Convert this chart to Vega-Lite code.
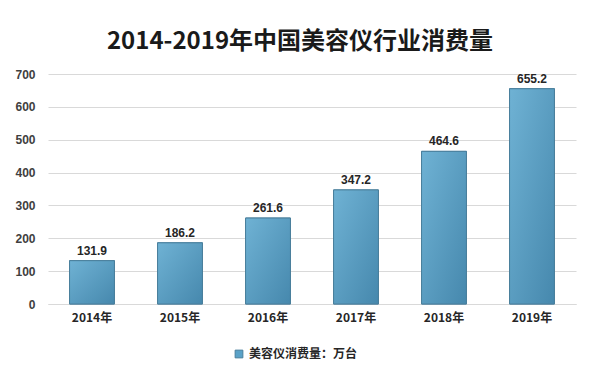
{
  "$schema": "https://vega.github.io/schema/vega-lite/v6.json",
  "width": 528,
  "height": 230,
  "autosize": {"type": "none"},
  "padding": {"left": 48, "top": 74, "right": 24, "bottom": 74},
  "background": "white",
  "title": {
    "text": "2014-2019年中国美容仪行业消费量",
    "font": "Noto Sans CJK SC",
    "fontSize": 24,
    "fontWeight": "bold",
    "color": "#1a1a1a",
    "anchor": "middle",
    "dx": -12,
    "offset": 14
  },
  "data": {
    "values": [
      {"year": "2014年", "value": 131.9, "series": "美容仪消费量：万台"},
      {"year": "2015年", "value": 186.2, "series": "美容仪消费量：万台"},
      {"year": "2016年", "value": 261.6, "series": "美容仪消费量：万台"},
      {"year": "2017年", "value": 347.2, "series": "美容仪消费量：万台"},
      {"year": "2018年", "value": 464.6, "series": "美容仪消费量：万台"},
      {"year": "2019年", "value": 655.2, "series": "美容仪消费量：万台"}
    ]
  },
  "encoding": {
    "x": {
      "field": "year",
      "type": "nominal",
      "sort": null,
      "scale": {"paddingInner": 0.49, "paddingOuter": 0.245},
      "axis": {
        "title": null,
        "labelAngle": 0,
        "labelFont": "Noto Sans CJK SC",
        "labelFontSize": 12,
        "labelFontWeight": "bold",
        "labelColor": "#262626",
        "labelPadding": 8,
        "ticks": false,
        "domainColor": "#d9d9d9"
      }
    },
    "y": {
      "field": "value",
      "type": "quantitative",
      "scale": {"domain": [0, 700]},
      "axis": {
        "title": null,
        "values": [0, 100, 200, 300, 400, 500, 600, 700],
        "labelFont": "Liberation Sans",
        "labelFontSize": 12,
        "labelFontWeight": "bold",
        "labelColor": "#404040",
        "labelPadding": 13,
        "ticks": false,
        "domain": false,
        "gridColor": "#d9d9d9",
        "gridWidth": 1
      }
    }
  },
  "layer": [
    {
      "mark": {"type": "bar", "stroke": "#4a7f9c", "strokeWidth": 1},
      "encoding": {
        "color": {
          "field": "series",
          "type": "nominal",
          "scale": {"range": ["#5aa2c8"]},
          "legend": {
            "title": null,
            "orient": "none",
            "legendX": 185,
            "legendY": 274,
            "direction": "horizontal",
            "symbolType": "square",
            "symbolSize": 60,
            "symbolStrokeColor": "#4a7f9c",
            "symbolStrokeWidth": 1,
            "labelFont": "Noto Sans CJK SC",
            "labelFontSize": 12,
            "labelFontWeight": "bold",
            "labelColor": "#262626"
          }
        }
      }
    },
    {
      "mark": {
        "type": "bar",
        "stroke": "#4a7f9c",
        "strokeWidth": 1,
        "fill": {
          "gradient": "linear",
          "x1": 0, "y1": 0, "x2": 1, "y2": 1,
          "stops": [
            {"offset": 0, "color": "#6fb2d4"},
            {"offset": 1, "color": "#4688ad"}
          ]
        }
      }
    },
    {
      "mark": {
        "type": "text",
        "dy": -10,
        "font": "Liberation Sans",
        "fontSize": 12,
        "fontWeight": "bold",
        "color": "#262626"
      },
      "encoding": {
        "text": {"field": "value", "type": "quantitative", "format": ".1f"}
      }
    }
  ],
  "config": {"view": {"stroke": null}}
}
